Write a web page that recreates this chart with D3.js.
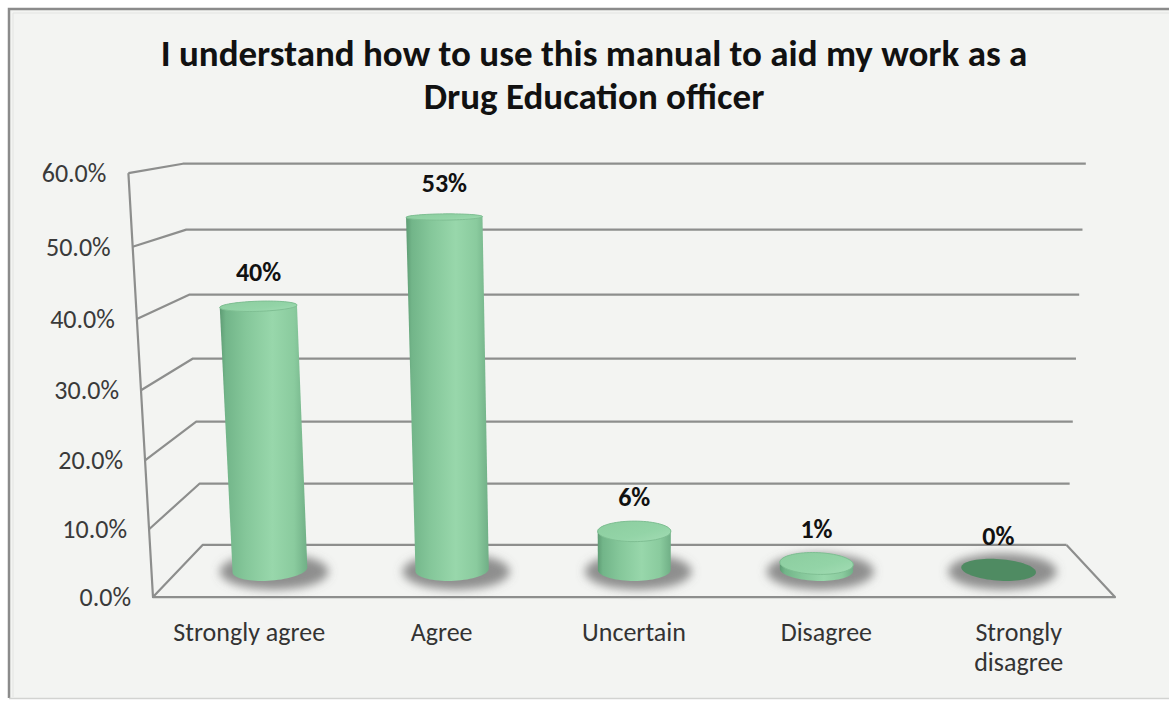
<!DOCTYPE html>
<html>
<head>
<meta charset="utf-8">
<script src="https://cdn.jsdelivr.net/npm/d3@7"></script>
<style>
  html, body { margin: 0; padding: 0; background: #ffffff; }
  svg { display: block; }
  text { font-family: Carlito, Calibri, Lato, "Open Sans", sans-serif; }
</style>
</head>
<body>
<svg id="chart" width="1169" height="701"></svg>
<script>
// ---- data ----
const titleLines = ["I understand how to use this manual to aid my work as a", "Drug Education officer"];
const categories = ["Strongly agree", "Agree", "Uncertain", "Disagree", "Strongly disagree"];
const values = [0.40, 0.53, 0.06, 0.01, 0.00];
const yTicks = [0, 0.1, 0.2, 0.3, 0.4, 0.5, 0.6];

// ---- 3D scene: world box (x = categories, y = value, z = depth) seen by a pinhole camera ----
const boxW = 0.6139, boxH = 0.2689, boxD = 0.1153;
const pitch = 10.3 * Math.PI / 180;
const sinP = Math.sin(pitch), cosP = Math.cos(pitch);
const focal = 1567, px0 = 640, py0 = 370;
const cam = { x: 0.3108, y: 0.3214, z: -0.958 };

function project(x, y, z) {
  const dx = x - cam.x, dy = y - cam.y, dz = z - cam.z;
  const depth = -dy * sinP + dz * cosP;
  const up = dy * cosP + dz * sinP;
  return [px0 + focal * dx / depth, py0 - focal * up / depth];
}

const xScale = d3.scaleBand().domain(categories).range([0, boxW]);
const yScale = d3.scaleLinear().domain([0, 0.6]).range([0, boxH]);
const pct1 = d3.format(".1%");
const pct0 = d3.format(".0%");

const svg = d3.select("#chart");
const defs = svg.append("defs");

// cylinder shading
const bodyGrad = defs.append("linearGradient").attr("id", "cylBody")
  .attr("x1", 0).attr("x2", 1).attr("y1", 0).attr("y2", 0);
[[0, "#5e9c74"], [0.07, "#72b589"], [0.3, "#85c79a"], [0.6, "#98d7ab"], [0.85, "#8acb9e"], [1, "#70af86"]]
  .forEach(([o, c]) => bodyGrad.append("stop").attr("offset", o).attr("stop-color", c));
const topGrad = defs.append("linearGradient").attr("id", "cylTop")
  .attr("x1", 0).attr("x2", 1).attr("y1", 0).attr("y2", 1);
[[0, "#8ccd9f"], [0.6, "#93d4a7"], [1, "#a3dcb4"]]
  .forEach(([o, c]) => topGrad.append("stop").attr("offset", o).attr("stop-color", c));
defs.append("filter").attr("id", "softShadow").attr("x", "-50%").attr("y", "-100%")
  .attr("width", "200%").attr("height", "300%")
  .append("feGaussianBlur").attr("stdDeviation", 5);

// ---- chart area frame ----
svg.append("rect").attr("x", 8).attr("y", 8).attr("width", 1180).attr("height", 690)
  .attr("fill", "#f3f4f2");
svg.append("path").attr("d", "M9,698 V9 H1169").attr("fill", "none")
  .attr("stroke", "#8b8b8b").attr("stroke-width", 2.5);
svg.append("path").attr("d", "M13,697 V13 H1169").attr("fill", "none")
  .attr("stroke", "#e3e4e2").attr("stroke-width", 1);
svg.append("line").attr("x1", 9).attr("x2", 1169).attr("y1", 698.5).attr("y2", 698.5)
  .attr("stroke", "#d2d3d1").attr("stroke-width", 1.5);

// ---- title ----
svg.append("g").selectAll("text").data(titleLines).join("text")
  .attr("x", 594).attr("y", (d, i) => 66 + i * 43)
  .attr("text-anchor", "middle").attr("font-size", 37).attr("font-weight", "bold")
  .attr("fill", "#111").text(d => d);

// ---- walls and gridlines ----
const line = d3.line();
const grid = svg.append("g").attr("fill", "none").attr("stroke", "#8d8e8d")
  .attr("stroke-width", 2.2).attr("stroke-linejoin", "round");
yTicks.forEach(t => {
  const yy = yScale(t);
  grid.append("path").attr("d", line([
    project(0, yy, 0), project(0, yy, boxD), project(boxW, yy, boxD)
  ]));
});
// floor front and right edges, vertical axis edge
grid.append("path").attr("d", line([
  project(boxW, 0, boxD), project(boxW, 0, 0), project(0, 0, 0), project(0, yScale(0.6), 0)
]));

// ---- value axis labels ----
svg.append("g").selectAll("text").data(yTicks).join("text")
  .attr("x", t => project(0, yScale(t), 0)[0] - 22)
  .attr("y", t => project(0, yScale(t), 0)[1])
  .attr("dy", "0.35em").attr("text-anchor", "end")
  .attr("font-size", 26).attr("fill", "#3a3a3a").text(t => pct1(t));

// ---- cylinders ----
const radius = xScale.bandwidth() * 0.2;
const zc = boxD / 2;
const steps = d3.range(0, 72).map(i => i / 72 * 2 * Math.PI);

function ring(xc, yy) {
  return steps.map(a => project(xc + radius * Math.cos(a), yy, zc + radius * Math.sin(a)));
}

const shadows = svg.append("g").attr("filter", "url(#softShadow)");
const bars = svg.append("g");

categories.forEach((c, i) => {
  const xc = xScale(c) + xScale.bandwidth() / 2;
  const v = values[i];
  const base = ring(xc, 0);
  const top = ring(xc, yScale(v));
  const bx = d3.extent(base, p => p[0]);
  const by = d3.extent(base, p => p[1]);
  const ctr = project(xc, 0, zc);

  shadows.append("ellipse")
    .attr("cx", ctr[0] + 4).attr("cy", ctr[1] + 2)
    .attr("rx", (bx[1] - bx[0]) / 2 + 17).attr("ry", (by[1] - by[0]) / 2 + 7)
    .attr("fill", "#6e6e6e").attr("opacity", 0.75);

  if (v > 0) {
    const hull = d3.polygonHull(base.concat(top));
    bars.append("path").attr("d", "M" + hull.join("L") + "Z").attr("fill", "url(#cylBody)");
    bars.append("path").attr("d", "M" + top.join("L") + "Z")
      .attr("fill", "url(#cylTop)").attr("stroke", "#7fbf93").attr("stroke-width", 1);
  } else {
    // a zero-height cylinder leaves only its dark base disc
    bars.append("path").attr("d", "M" + base.join("L") + "Z").attr("fill", "#4f8b62");
  }
});

// ---- data labels ----
svg.append("g").selectAll("text").data(categories).join("text")
  .attr("x", (c, i) => project(xScale(c) + xScale.bandwidth() / 2, yScale(values[i]), zc)[0])
  .attr("y", (c, i) => project(xScale(c) + xScale.bandwidth() / 2, yScale(values[i]), zc)[1] - 34)
  .attr("dy", "0.35em").attr("text-anchor", "middle")
  .attr("font-size", 26).attr("font-weight", "bold").attr("fill", "#111")
  .text((c, i) => pct0(values[i]));

// ---- category labels (wrapped to the band width) ----
const catG = svg.append("g");
categories.forEach(c => {
  const xc = xScale(c) + xScale.bandwidth() / 2;
  const p = project(xc, 0, 0);
  const t = catG.append("text").attr("x", p[0]).attr("y", p[1] + 35)
    .attr("text-anchor", "middle").attr("font-size", 26).attr("fill", "#333");
  const words = c.split(" ");
  let lines = [c];
  t.text(c);
  if (t.node().getComputedTextLength() > 172 && words.length > 1) {
    lines = [words.slice(0, -1).join(" "), words[words.length - 1]];
  }
  t.text(null);
  lines.forEach((ln, k) => {
    t.append("tspan").attr("x", p[0]).attr("dy", k === 0 ? "0.35em" : 30).text(ln);
  });
});
</script>
</body>
</html>
